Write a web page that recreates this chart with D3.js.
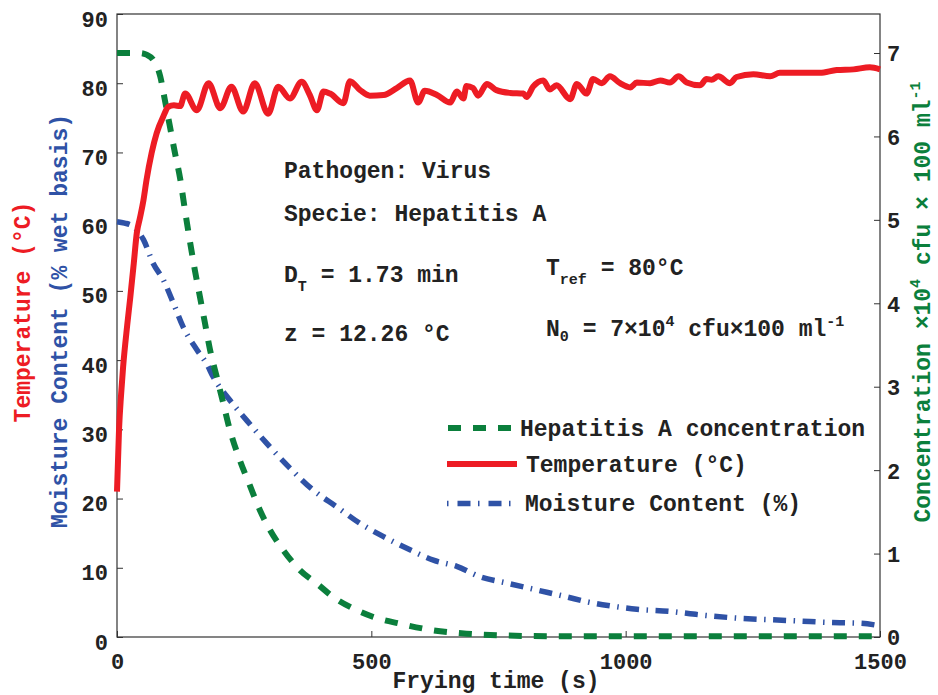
<!DOCTYPE html>
<html><head><meta charset="utf-8">
<script src="https://cdn.jsdelivr.net/npm/d3@7"></script>
<style>
body{margin:0;background:#fff;}
text{font-family:"Liberation Mono","Courier New",monospace;font-weight:bold;}
</style></head>
<body><svg id="c" width="938" height="695"></svg>
<script>
// ---- data ----
const tempTime = [0,4,8,12,20,26,33,39,45,52,58,68,78,91,101,112,124,134,157,180,203,225,248,271,297,317,340,363,379,393,406,419,445,458,478,497,524,550,576,592,605,629,655,668,681,687,700,710,727,746,773,799,805,818,838,851,864,891,904,923,936,953,969,989,1009,1022,1048,1068,1087,1104,1120,1146,1159,1169,1182,1205,1218,1251,1284,1303,1382,1415,1448,1480,1500];
const tempValues = [21,30,35,39,45,49,54,58.4,60.5,63.1,66,69.9,72.8,75.2,76.6,76.8,76.7,78.5,76.1,80,76.4,79.5,75.9,80,75.6,79.5,77.8,80.2,78.3,76.1,78.8,78.5,77.1,80.3,79,78.2,78.3,79.3,80.4,77.2,78.9,78.3,77.2,78.8,77.8,79.6,79.3,78.2,79.9,79,78.6,78.5,78,79.5,80.4,79.1,79.7,77.7,79.9,78.5,80.6,80,81,80,79.4,80.1,80,80.4,80.1,81,80.1,79.7,80.6,80.5,81,80,80.9,81.3,81,81.5,81.5,81.9,82,82.3,82];

const concTime = [0,20,45,58,71,85,94,104,114,124,134,144,153,163,173,183,196,209,222,239,261,281,301,327,360,393,425,465,504,556,622,687,753,850,1000,1500];
const concValues = [7.0,7.0,7.0,6.98,6.92,6.72,6.44,6.12,5.8,5.5,5.1,4.72,4.4,4.08,3.76,3.44,3.12,2.8,2.48,2.16,1.82,1.52,1.28,1.04,0.8,0.64,0.48,0.34,0.24,0.16,0.08,0.04,0.02,0.01,0.01,0.01];

const moistTime = [0,15,32,52,71,91,111,130,157,176,189,222,255,294,340,386,432,478,524,576,622,668,714,766,825,884,923,970,1022,1087,1146,1225,1284,1343,1402,1461,1500];
const moistValues = [60,59.8,59.3,57.4,54,51.6,48.2,44.8,41.5,39.5,37.6,34.2,31.3,28,24.4,21.2,18.8,16.4,14.5,12.6,11.1,10.2,8.7,7.8,6.8,5.8,5.1,4.5,4.0,3.7,3.2,2.7,2.5,2.3,2.1,2.0,1.6];

const xTicks = [0,500,1000,1500];
const leftTicks = [0,10,20,30,40,50,60,70,80,90];
const rightTicks = [0,1,2,3,4,5,6,7];

const RED="#ed1c24", GREEN="#0b7f3c", BLUE="#2f52a6", INK="#222";

const svg = d3.select("#c");
const x = d3.scaleLinear().domain([0,1500]).range([117,880]);
const yL = d3.scaleLinear().domain([0,90]).range([637,14]);
const yR = d3.scaleLinear().domain([0,7]).range([637,53]);
const fmt = d3.format("d");

// axes
function styleAxis(g){
  g.select(".domain").remove();
  g.selectAll(".tick line").attr("stroke","#333").attr("stroke-width",1);
  g.selectAll(".tick text").attr("fill",INK).style("font-size","22px")
    .style("font-family",'"Liberation Mono","Courier New",monospace').style("font-weight","bold");
}
const gL = svg.append("g").attr("transform","translate(117,0)")
  .call(d3.axisLeft(yL).tickValues(leftTicks).tickFormat(fmt).tickSizeInner(-6).tickSizeOuter(0).tickPadding(9));
styleAxis(gL); gL.selectAll(".tick text").attr("dy","0.55em");
const gR = svg.append("g").attr("transform","translate(880,0)")
  .call(d3.axisRight(yR).tickValues(rightTicks).tickFormat(fmt).tickSizeInner(-6).tickSizeOuter(0).tickPadding(7));
styleAxis(gR); gR.selectAll(".tick text").attr("dy","0.36em");
const gB = svg.append("g").attr("transform","translate(0,637)")
  .call(d3.axisBottom(x).tickValues(xTicks).tickFormat(fmt).tickSizeInner(-6).tickSizeOuter(0).tickPadding(16));
styleAxis(gB);

// frame
svg.append("rect").attr("x",117).attr("y",14).attr("width",763).attr("height",623)
  .attr("fill","none").attr("stroke","#333").attr("stroke-width",1.2);

// lines
const lineT = d3.line().x((d,i)=>x(tempTime[i])).y(d=>yL(d)).curve(d3.curveMonotoneX);
const lineM = d3.line().x((d,i)=>x(moistTime[i])).y(d=>yL(d)).curve(d3.curveMonotoneX);
const lineC = d3.line().x((d,i)=>x(concTime[i])).y(d=>yR(d)).curve(d3.curveMonotoneX);

svg.append("path").attr("d",lineM(moistValues)).attr("fill","none").attr("stroke",BLUE)
  .attr("stroke-width",5.5).attr("stroke-dasharray","13,7.5,1.5,7.5");
svg.append("path").attr("d",lineC(concValues)).attr("fill","none").attr("stroke",GREEN)
  .attr("stroke-width",6).attr("stroke-dasharray","13,12");
svg.append("path").attr("d",lineT(tempValues)).attr("fill","none").attr("stroke",RED)
  .attr("stroke-width",6).attr("stroke-linejoin","round");

// legend
const legend = [
  {label:"Hepatitis A concentration", color:GREEN, w:6, dash:"13,12", x1:448, x2:513, y:428, tx:520, ty:436},
  {label:"Temperature (°C)", color:RED, w:6, dash:null, x1:447, x2:517, y:464, tx:526, ty:472},
  {label:"Moisture Content (%)", color:BLUE, w:5.5, dash:"1.5,9,13,7.5", x1:447, x2:511, y:503.5, tx:525, ty:511}
];
legend.forEach(l=>{
  const ln = svg.append("line").attr("x1",l.x1).attr("x2",l.x2).attr("y1",l.y).attr("y2",l.y)
    .attr("stroke",l.color).attr("stroke-width",l.w);
  if(l.dash) ln.attr("stroke-dasharray",l.dash);
  svg.append("text").attr("x",l.tx).attr("y",l.ty).attr("fill",INK).style("font-size","23px").text(l.label);
});

// annotations
function ann(xp,yp){return svg.append("text").attr("x",xp).attr("y",yp).attr("fill",INK).style("font-size","23px");}
ann(284,178).text("Pathogen: Virus");
ann(284,221).text("Specie: Hepatitis A");
let t1 = ann(284,282);
t1.append("tspan").text("D");
t1.append("tspan").attr("dy",9).style("font-size","15px").text("T");
t1.append("tspan").attr("dy",-9).text(" = 1.73 min");
ann(284,341).text("z = 12.26 °C");
let t2 = ann(546,275);
t2.append("tspan").text("T");
t2.append("tspan").attr("dy",9).style("font-size","15px").text("ref");
t2.append("tspan").attr("dy",-9).text(" = 80°C");
let t3 = ann(546,336);
t3.append("tspan").text("N");
t3.append("tspan").attr("dy",5).style("font-size","15px").text("0");
t3.append("tspan").attr("dy",-5).text(" = 7×10");
t3.append("tspan").attr("dy",-10).style("font-size","15px").text("4");
t3.append("tspan").attr("dy",10).text(" cfu×100 ml");
t3.append("tspan").attr("dy",-10).style("font-size","15px").text("-1");

// axis titles
svg.append("text").attr("x",496).attr("y",688).attr("text-anchor","middle").attr("fill",INK)
  .style("font-size","23px").text("Frying time (s)");
svg.append("text").attr("transform","translate(30,312) rotate(-90)").attr("text-anchor","middle")
  .attr("fill",RED).style("font-size","23px").text("Temperature (°C)");
svg.append("text").attr("transform","translate(67,321) rotate(-90)").attr("text-anchor","middle")
  .attr("fill",BLUE).style("font-size","23px").text("Moisture Content (% wet basis)");
const rt = svg.append("text").attr("transform","translate(930,302) rotate(-90)").attr("text-anchor","middle")
  .attr("fill",GREEN).style("font-size","23px");
rt.append("tspan").text("Concentration ×10");
rt.append("tspan").attr("dy",-10).style("font-size","15px").text("4");
rt.append("tspan").attr("dy",10).text(" cfu × 100 ml");
rt.append("tspan").attr("dy",-10).style("font-size","15px").text("-1");
</script>
</body></html>
